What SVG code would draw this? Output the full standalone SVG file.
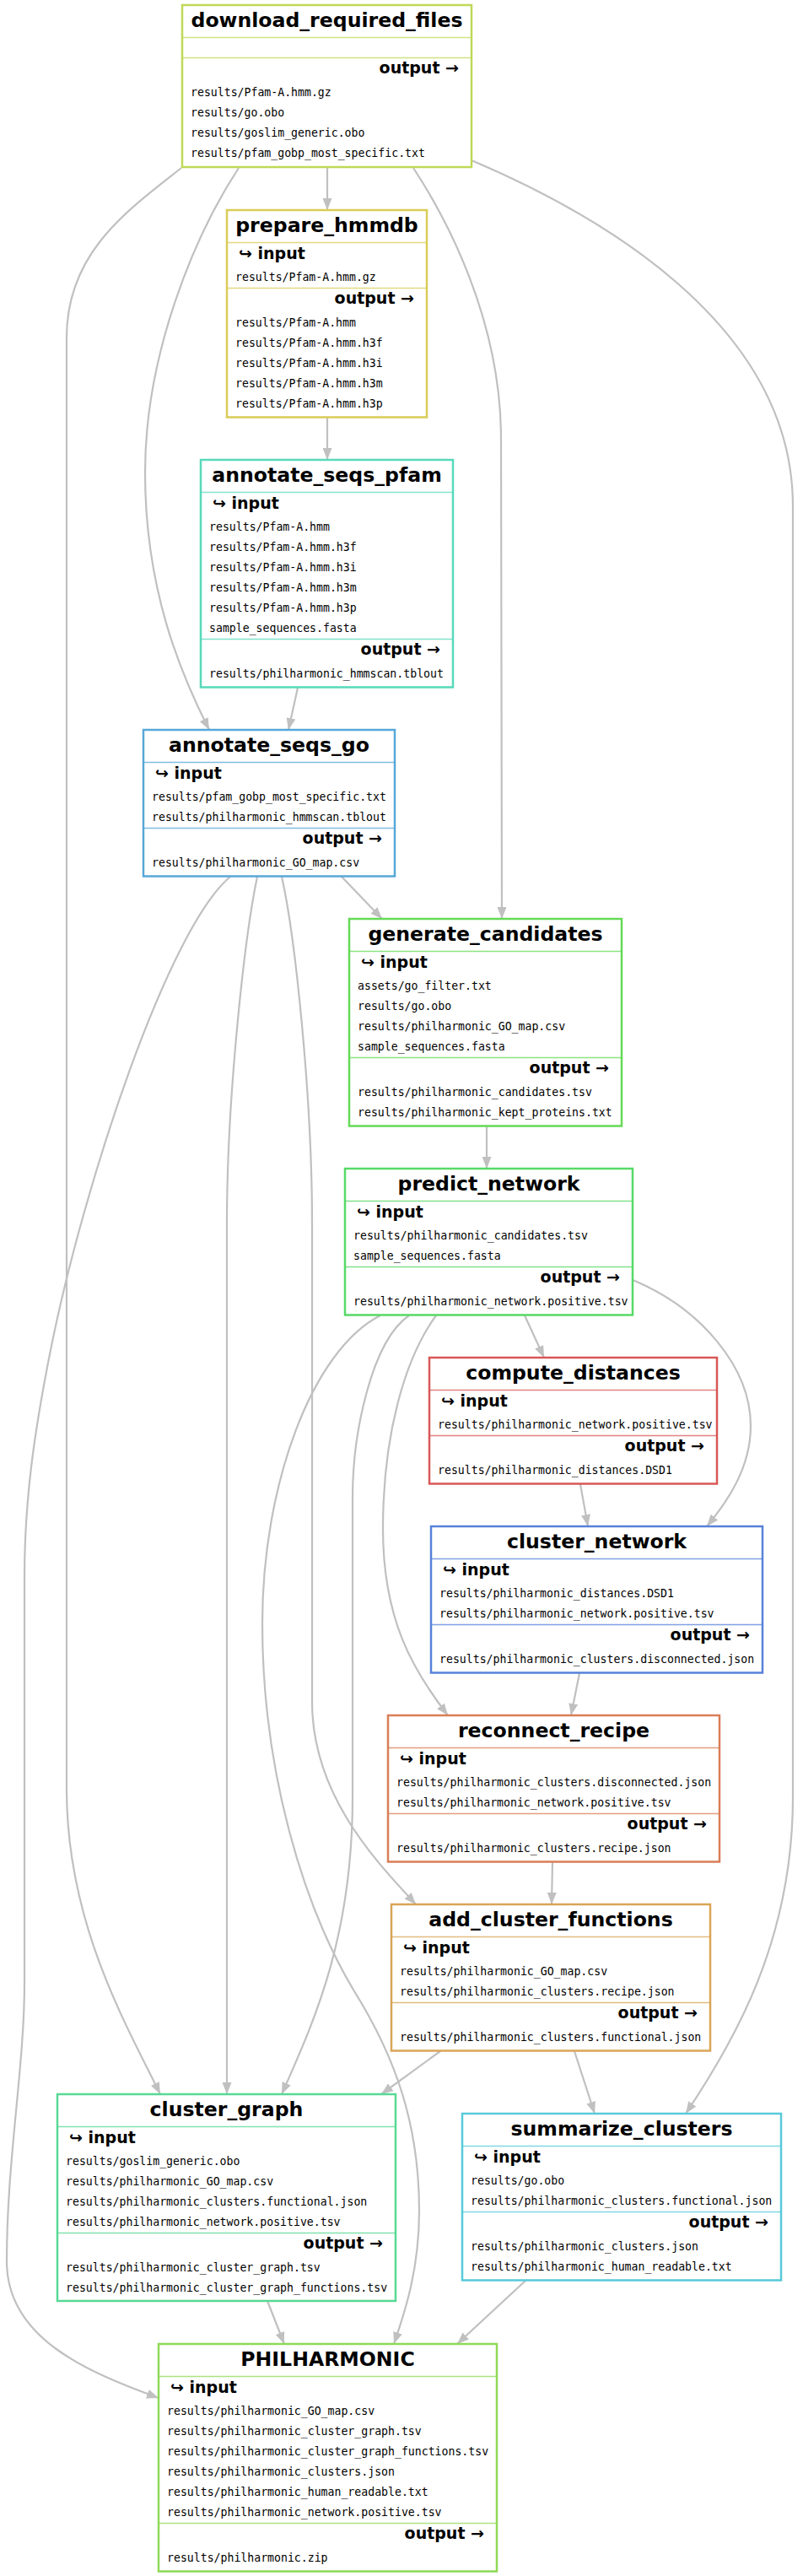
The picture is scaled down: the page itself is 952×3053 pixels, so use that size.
<svg xmlns="http://www.w3.org/2000/svg" width="952" height="3053" viewBox="0 0 952 3053">
<style>
.bg{fill:#ffffff}
.box{fill:#ffffff;stroke-width:2.5}
.div{stroke-width:1.3;stroke-opacity:0.75}
.t{font-family:"DejaVu Sans","Liberation Sans",sans-serif;font-weight:bold;font-size:23.6px;fill:#000;text-anchor:middle}
.h{font-family:"DejaVu Sans","Liberation Sans",sans-serif;font-weight:bold;font-size:19px;fill:#000}
.o{text-anchor:end}
.f{font-family:"DejaVu Sans Mono","Liberation Mono",monospace;font-size:13.2px;fill:#000}
.e{fill:none;stroke:#c0c0c0;stroke-width:2.2}
</style>
<defs>
<marker id="ah" viewBox="0 0 14 11" refX="14" refY="5.5" markerWidth="14" markerHeight="11" markerUnits="userSpaceOnUse" orient="auto">
<path d="M0,0 L14,5.5 L0,11 z" fill="#c0c0c0"/>
</marker>
</defs>
<rect class="bg" x="0" y="0" width="952" height="3053"/>
<g id="edges">
<path class="e" marker-end="url(#ah)" d="M388,199 L388,249"/>
<path class="e" marker-end="url(#ah)" d="M283,199 C230,280 172,420 172,560 C172,700 215,800 248,865"/>
<path class="e" marker-end="url(#ah)" d="M490,199 C530,260 594,380 594,520 L595,1089"/>
<path class="e" marker-end="url(#ah)" d="M215,199 C150,250 79,300 79,400 L79,2120 C79,2280 150,2400 190,2482"/>
<path class="e" marker-end="url(#ah)" d="M559,190 C700,250 940,380 940,600 L940,2130 C940,2300 870,2420 813,2505"/>
<path class="e" marker-end="url(#ah)" d="M388,495 L388,545"/>
<path class="e" marker-end="url(#ah)" d="M353,815 L342,865"/>
<path class="e" marker-end="url(#ah)" d="M405,1039 L453,1089"/>
<path class="e" marker-end="url(#ah)" d="M334,1039 C350,1110 370,1300 370,1450 L370,2017 C370,2130 450,2210 493,2257"/>
<path class="e" marker-end="url(#ah)" d="M305,1039 C290,1110 269,1300 269,1450 L269,2482"/>
<path class="e" marker-end="url(#ah)" d="M273,1039 C200,1100 100,1400 60,1600 C40,1700 29,1780 29,1870 L29,2350 C29,2450 8,2560 8,2680 C8,2770 100,2810 188,2842"/>
<path class="e" marker-end="url(#ah)" d="M577,1335 L577,1385"/>
<path class="e" marker-end="url(#ah)" d="M622,1559 L645,1609"/>
<path class="e" marker-end="url(#ah)" d="M750,1517 C830,1550 890,1620 890,1690 C890,1740 862,1780 838,1809"/>
<path class="e" marker-end="url(#ah)" d="M517,1559 C480,1610 454,1700 454,1812 C454,1920 490,1980 531,2033"/>
<path class="e" marker-end="url(#ah)" d="M485,1559 C440,1590 418,1700 418,1775 L418,2130 C418,2300 370,2400 334,2482"/>
<path class="e" marker-end="url(#ah)" d="M451,1559 C370,1600 311,1760 311,1924 C311,2100 360,2260 420,2360 C470,2440 497,2520 497,2620 C497,2690 480,2740 467,2778"/>
<path class="e" marker-end="url(#ah)" d="M688,1759 L697,1809"/>
<path class="e" marker-end="url(#ah)" d="M687,1983 L677,2033"/>
<path class="e" marker-end="url(#ah)" d="M655,2207 L654,2257"/>
<path class="e" marker-end="url(#ah)" d="M522,2431 L452,2482"/>
<path class="e" marker-end="url(#ah)" d="M681,2431 L705,2505"/>
<path class="e" marker-end="url(#ah)" d="M317,2727 L337,2778"/>
<path class="e" marker-end="url(#ah)" d="M623,2703 L542,2778"/>
</g>

<g id="download_required_files">
<rect class="box" x="216" y="6" width="343" height="192" stroke="#bfd957"/>
<line class="div" x1="216" y1="44.5" x2="559" y2="44.5" stroke="#bfd957"/>
<line class="div" x1="216" y1="68.5" x2="559" y2="68.5" stroke="#bfd957"/>
<text class="t" x="387.5" y="32">download_required_files</text>
<text class="h o" x="544" y="87">output →</text>
<text class="f" x="226" y="113.5">results/Pfam-A.hmm.gz</text>
<text class="f" x="226" y="137.5">results/go.obo</text>
<text class="f" x="226" y="161.5">results/goslim_generic.obo</text>
<text class="f" x="226" y="185.5">results/pfam_gobp_most_specific.txt</text>
</g>

<g id="prepare_hmmdb">
<rect class="box" x="269" y="249" width="237" height="245.5" stroke="#d9cc57"/>
<line class="div" x1="269" y1="287.5" x2="506" y2="287.5" stroke="#d9cc57"/>
<line class="div" x1="269" y1="341.5" x2="506" y2="341.5" stroke="#d9cc57"/>
<text class="t" x="387.5" y="275">prepare_hmmdb</text>
<text class="h" x="283" y="307">↪ input</text>
<text class="f" x="279" y="332.5">results/Pfam-A.hmm.gz</text>
<text class="h o" x="491" y="360">output →</text>
<text class="f" x="279" y="386.5">results/Pfam-A.hmm</text>
<text class="f" x="279" y="410.5">results/Pfam-A.hmm.h3f</text>
<text class="f" x="279" y="434.5">results/Pfam-A.hmm.h3i</text>
<text class="f" x="279" y="458.5">results/Pfam-A.hmm.h3m</text>
<text class="f" x="279" y="482.5">results/Pfam-A.hmm.h3p</text>
</g>

<g id="annotate_seqs_pfam">
<rect class="box" x="238" y="545" width="299" height="269.5" stroke="#57d9bb"/>
<line class="div" x1="238" y1="583.5" x2="537" y2="583.5" stroke="#57d9bb"/>
<line class="div" x1="238" y1="757.5" x2="537" y2="757.5" stroke="#57d9bb"/>
<text class="t" x="387.5" y="571">annotate_seqs_pfam</text>
<text class="h" x="252" y="603">↪ input</text>
<text class="f" x="248" y="628.5">results/Pfam-A.hmm</text>
<text class="f" x="248" y="652.5">results/Pfam-A.hmm.h3f</text>
<text class="f" x="248" y="676.5">results/Pfam-A.hmm.h3i</text>
<text class="f" x="248" y="700.5">results/Pfam-A.hmm.h3m</text>
<text class="f" x="248" y="724.5">results/Pfam-A.hmm.h3p</text>
<text class="f" x="248" y="748.5">sample_sequences.fasta</text>
<text class="h o" x="522" y="776">output →</text>
<text class="f" x="248" y="802.5">results/philharmonic_hmmscan.tblout</text>
</g>

<g id="annotate_seqs_go">
<rect class="box" x="170" y="865" width="298" height="173.5" stroke="#57a7d9"/>
<line class="div" x1="170" y1="903.5" x2="468" y2="903.5" stroke="#57a7d9"/>
<line class="div" x1="170" y1="981.5" x2="468" y2="981.5" stroke="#57a7d9"/>
<text class="t" x="319" y="891">annotate_seqs_go</text>
<text class="h" x="184" y="923">↪ input</text>
<text class="f" x="180" y="948.5">results/pfam_gobp_most_specific.txt</text>
<text class="f" x="180" y="972.5">results/philharmonic_hmmscan.tblout</text>
<text class="h o" x="453" y="1000">output →</text>
<text class="f" x="180" y="1026.5">results/philharmonic_GO_map.csv</text>
</g>

<g id="generate_candidates">
<rect class="box" x="414" y="1089" width="323" height="245.5" stroke="#66d957"/>
<line class="div" x1="414" y1="1127.5" x2="737" y2="1127.5" stroke="#66d957"/>
<line class="div" x1="414" y1="1253.5" x2="737" y2="1253.5" stroke="#66d957"/>
<text class="t" x="575.5" y="1115">generate_candidates</text>
<text class="h" x="428" y="1147">↪ input</text>
<text class="f" x="424" y="1172.5">assets/go_filter.txt</text>
<text class="f" x="424" y="1196.5">results/go.obo</text>
<text class="f" x="424" y="1220.5">results/philharmonic_GO_map.csv</text>
<text class="f" x="424" y="1244.5">sample_sequences.fasta</text>
<text class="h o" x="722" y="1272">output →</text>
<text class="f" x="424" y="1298.5">results/philharmonic_candidates.tsv</text>
<text class="f" x="424" y="1322.5">results/philharmonic_kept_proteins.txt</text>
</g>

<g id="predict_network">
<rect class="box" x="409" y="1385" width="341" height="173.5" stroke="#57d966"/>
<line class="div" x1="409" y1="1423.5" x2="750" y2="1423.5" stroke="#57d966"/>
<line class="div" x1="409" y1="1501.5" x2="750" y2="1501.5" stroke="#57d966"/>
<text class="t" x="579.5" y="1411">predict_network</text>
<text class="h" x="423" y="1443">↪ input</text>
<text class="f" x="419" y="1468.5">results/philharmonic_candidates.tsv</text>
<text class="f" x="419" y="1492.5">sample_sequences.fasta</text>
<text class="h o" x="735" y="1520">output →</text>
<text class="f" x="419" y="1546.5">results/philharmonic_network.positive.tsv</text>
</g>

<g id="compute_distances">
<rect class="box" x="509" y="1609" width="341" height="149.5" stroke="#d95757"/>
<line class="div" x1="509" y1="1647.5" x2="850" y2="1647.5" stroke="#d95757"/>
<line class="div" x1="509" y1="1701.5" x2="850" y2="1701.5" stroke="#d95757"/>
<text class="t" x="679.5" y="1635">compute_distances</text>
<text class="h" x="523" y="1667">↪ input</text>
<text class="f" x="519" y="1692.5">results/philharmonic_network.positive.tsv</text>
<text class="h o" x="835" y="1720">output →</text>
<text class="f" x="519" y="1746.5">results/philharmonic_distances.DSD1</text>
</g>

<g id="cluster_network">
<rect class="box" x="511" y="1809" width="393" height="173.5" stroke="#5782d9"/>
<line class="div" x1="511" y1="1847.5" x2="904" y2="1847.5" stroke="#5782d9"/>
<line class="div" x1="511" y1="1925.5" x2="904" y2="1925.5" stroke="#5782d9"/>
<text class="t" x="707.5" y="1835">cluster_network</text>
<text class="h" x="525" y="1867">↪ input</text>
<text class="f" x="521" y="1892.5">results/philharmonic_distances.DSD1</text>
<text class="f" x="521" y="1916.5">results/philharmonic_network.positive.tsv</text>
<text class="h o" x="889" y="1944">output →</text>
<text class="f" x="521" y="1970.5">results/philharmonic_clusters.disconnected.json</text>
</g>

<g id="reconnect_recipe">
<rect class="box" x="460" y="2033" width="393" height="173.5" stroke="#d97e57"/>
<line class="div" x1="460" y1="2071.5" x2="853" y2="2071.5" stroke="#d97e57"/>
<line class="div" x1="460" y1="2149.5" x2="853" y2="2149.5" stroke="#d97e57"/>
<text class="t" x="656.5" y="2059">reconnect_recipe</text>
<text class="h" x="474" y="2091">↪ input</text>
<text class="f" x="470" y="2116.5">results/philharmonic_clusters.disconnected.json</text>
<text class="f" x="470" y="2140.5">results/philharmonic_network.positive.tsv</text>
<text class="h o" x="838" y="2168">output →</text>
<text class="f" x="470" y="2194.5">results/philharmonic_clusters.recipe.json</text>
</g>

<g id="add_cluster_functions">
<rect class="box" x="464" y="2257" width="378" height="173.5" stroke="#d9a557"/>
<line class="div" x1="464" y1="2295.5" x2="842" y2="2295.5" stroke="#d9a557"/>
<line class="div" x1="464" y1="2373.5" x2="842" y2="2373.5" stroke="#d9a557"/>
<text class="t" x="653" y="2283">add_cluster_functions</text>
<text class="h" x="478" y="2315">↪ input</text>
<text class="f" x="474" y="2340.5">results/philharmonic_GO_map.csv</text>
<text class="f" x="474" y="2364.5">results/philharmonic_clusters.recipe.json</text>
<text class="h o" x="827" y="2392">output →</text>
<text class="f" x="474" y="2418.5">results/philharmonic_clusters.functional.json</text>
</g>

<g id="cluster_graph">
<rect class="box" x="68" y="2482" width="401" height="245" stroke="#57d994"/>
<line class="div" x1="68" y1="2520.5" x2="469" y2="2520.5" stroke="#57d994"/>
<line class="div" x1="68" y1="2646.5" x2="469" y2="2646.5" stroke="#57d994"/>
<text class="t" x="268.5" y="2508">cluster_graph</text>
<text class="h" x="82" y="2540">↪ input</text>
<text class="f" x="78" y="2565.5">results/goslim_generic.obo</text>
<text class="f" x="78" y="2589.5">results/philharmonic_GO_map.csv</text>
<text class="f" x="78" y="2613.5">results/philharmonic_clusters.functional.json</text>
<text class="f" x="78" y="2637.5">results/philharmonic_network.positive.tsv</text>
<text class="h o" x="454" y="2665">output →</text>
<text class="f" x="78" y="2691.5">results/philharmonic_cluster_graph.tsv</text>
<text class="f" x="78" y="2715.5">results/philharmonic_cluster_graph_functions.tsv</text>
</g>

<g id="summarize_clusters">
<rect class="box" x="548" y="2505" width="378" height="197.5" stroke="#57cad9"/>
<line class="div" x1="548" y1="2543.5" x2="926" y2="2543.5" stroke="#57cad9"/>
<line class="div" x1="548" y1="2621.5" x2="926" y2="2621.5" stroke="#57cad9"/>
<text class="t" x="737" y="2531">summarize_clusters</text>
<text class="h" x="562" y="2563">↪ input</text>
<text class="f" x="558" y="2588.5">results/go.obo</text>
<text class="f" x="558" y="2612.5">results/philharmonic_clusters.functional.json</text>
<text class="h o" x="911" y="2640">output →</text>
<text class="f" x="558" y="2666.5">results/philharmonic_clusters.json</text>
<text class="f" x="558" y="2690.5">results/philharmonic_human_readable.txt</text>
</g>

<g id="PHILHARMONIC">
<rect class="box" x="188" y="2778" width="401" height="269.5" stroke="#8fd957"/>
<line class="div" x1="188" y1="2816.5" x2="589" y2="2816.5" stroke="#8fd957"/>
<line class="div" x1="188" y1="2990.5" x2="589" y2="2990.5" stroke="#8fd957"/>
<text class="t" x="388.5" y="2804">PHILHARMONIC</text>
<text class="h" x="202" y="2836">↪ input</text>
<text class="f" x="198" y="2861.5">results/philharmonic_GO_map.csv</text>
<text class="f" x="198" y="2885.5">results/philharmonic_cluster_graph.tsv</text>
<text class="f" x="198" y="2909.5">results/philharmonic_cluster_graph_functions.tsv</text>
<text class="f" x="198" y="2933.5">results/philharmonic_clusters.json</text>
<text class="f" x="198" y="2957.5">results/philharmonic_human_readable.txt</text>
<text class="f" x="198" y="2981.5">results/philharmonic_network.positive.tsv</text>
<text class="h o" x="574" y="3009">output →</text>
<text class="f" x="198" y="3035.5">results/philharmonic.zip</text>
</g>
</svg>
